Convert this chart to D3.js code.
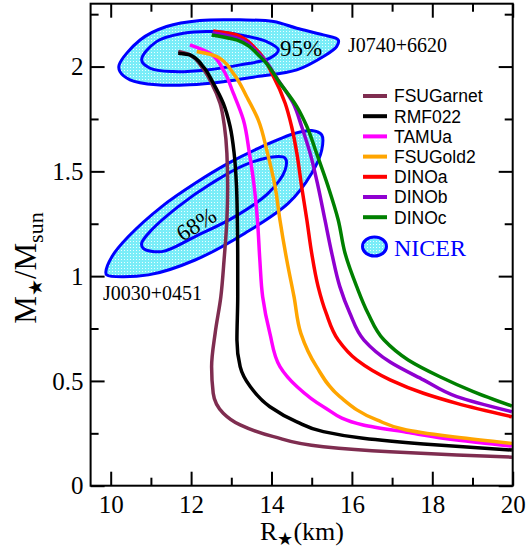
<!DOCTYPE html>
<html><head><meta charset="utf-8">
<script src="https://cdn.jsdelivr.net/npm/d3@7"></script>
<style>body{margin:0;background:#fff}svg{display:block}</style>
</head><body>
<svg id="c" width="528" height="550"></svg>
<script>
// ---------- data (R in km, M in solar masses) ----------
const seriesNames = ["FSUGarnet","RMF022","TAMUa","FSUGold2","DINOa","DINOb","DINOc"];
const seriesColors = ["#7f2d50","#000000","#ff00ff","#ffa500","#ff0000","#8f00d0","#008000"];

const FSUGarnet = [[11.68,2.072],[11.97,2.056],[12.26,2.000],[12.51,1.921],[12.72,1.825],[12.83,1.714],[12.89,1.587],[12.91,1.427],[12.89,1.268],[12.82,1.077],[12.74,0.902],[12.60,0.730],[12.51,0.568],[12.55,0.441],[12.80,0.346],[13.22,0.290],[14.05,0.234],[15.29,0.186],[16.95,0.162],[18.61,0.147],[19.98,0.136]];
const RMF022 = [[11.68,2.064],[11.97,2.056],[12.30,2.000],[12.55,1.921],[12.80,1.825],[12.97,1.714],[13.07,1.587],[13.13,1.427],[13.15,1.268],[13.16,1.077],[13.16,0.902],[13.14,0.695],[13.22,0.568],[13.47,0.473],[13.96,0.377],[14.63,0.305],[15.29,0.258],[16.28,0.226],[17.78,0.199],[19.98,0.170]];
const TAMUa = [[11.97,2.104],[12.47,2.064],[12.80,1.984],[13.05,1.873],[13.30,1.746],[13.45,1.587],[13.57,1.427],[13.65,1.268],[13.71,1.077],[13.78,0.902],[13.96,0.727],[14.21,0.568],[14.63,0.473],[15.29,0.377],[16.28,0.290],[17.36,0.255],[18.61,0.218],[19.98,0.189]];
const FSUGold2 = [[12.14,2.072],[12.64,2.048],[13.05,1.968],[13.38,1.857],[13.67,1.746],[13.90,1.587],[14.09,1.427],[14.21,1.268],[14.38,1.077],[14.56,0.902],[14.73,0.727],[15.12,0.568],[15.70,0.425],[16.62,0.314],[17.36,0.266],[18.61,0.231],[19.98,0.202]];
const DINOa = [[12.55,2.170],[13.13,2.151],[13.63,2.080],[14.05,1.952],[14.34,1.825],[14.50,1.714],[14.63,1.587],[14.75,1.427],[14.88,1.268],[15.00,1.109],[15.16,0.950],[15.36,0.823],[15.66,0.695],[16.12,0.600],[16.95,0.505],[17.78,0.441],[18.61,0.393],[19.98,0.329]];
const DINOb = [[12.53,2.161],[13.13,2.137],[13.67,2.064],[14.16,1.937],[14.54,1.825],[14.75,1.714],[14.96,1.587],[15.16,1.427],[15.33,1.268],[15.50,1.109],[15.70,0.950],[15.95,0.823],[16.30,0.695],[16.95,0.590],[17.78,0.505],[18.61,0.425],[19.98,0.353]];
const DINOc = [[12.51,2.151],[13.13,2.127],[13.71,2.048],[14.21,1.921],[14.63,1.809],[14.88,1.714],[15.12,1.587],[15.41,1.427],[15.66,1.268],[15.83,1.109],[16.12,0.950],[16.40,0.823],[16.80,0.695],[17.40,0.600],[18.19,0.520],[19.02,0.449],[19.98,0.380]];
const seriesData = [FSUGarnet,RMF022,TAMUa,FSUGold2,DINOa,DINOb,DINOc];

// NICER credible contours
const J0740outer = [[10.21,2.008],[10.73,2.127],[11.39,2.191],[12.22,2.220],[13.22,2.223],[14.05,2.215],[14.63,2.183],[15.29,2.151],[15.66,2.127],[15.62,2.095],[15.29,2.048],[14.63,1.984],[13.63,1.952],[12.80,1.928],[11.97,1.913],[11.14,1.913],[10.48,1.937],[10.23,1.976]];
const J0740inner = [[10.77,2.032],[11.14,2.119],[11.81,2.159],[12.55,2.167],[13.22,2.151],[13.88,2.119],[14.17,2.080],[13.96,2.040],[13.22,2.008],[12.39,1.984],[11.56,1.976],[10.98,1.992]];
const J0030outer = [[9.90,1.006],[10.94,1.006],[12.10,1.077],[13.34,1.205],[14.42,1.348],[15.00,1.491],[15.25,1.602],[15.25,1.674],[15.00,1.695],[14.59,1.682],[13.76,1.618],[12.93,1.539],[12.10,1.443],[11.27,1.332],[10.44,1.189],[10.03,1.093],[9.88,1.021]];
const J0030inner = [[10.81,1.133],[11.27,1.117],[12.10,1.189],[13.09,1.284],[13.92,1.396],[14.34,1.507],[14.34,1.563],[14.09,1.570],[13.34,1.531],[12.51,1.443],[11.68,1.332],[11.02,1.221],[10.77,1.157]];

const xMajor = [10,12,14,16,18,20];
const xMinor = [11,13,15,17,19];
const yMajor = [0,0.5,1,1.5,2];
const yMinor = [0.25,0.75,1.25,1.75,2.25];
const yTickLabels = ["0","0.5","1","1.5","2"];

// ---------- drawing ----------
const svg = d3.select("#c");
const x = d3.scaleLinear().domain([9.5,20]).range([90.6,512.7]);
const y = d3.scaleLinear().domain([0,2.3]).range([485.7,3.7]);
const serif = "'Liberation Serif','Times New Roman',serif";
const sans = "'Liberation Sans',Arial,sans-serif";

const closed = d3.line().x(d=>x(d[0])).y(d=>y(d[1])).curve(d3.curveCatmullRomClosed.alpha(0.5));
const open = d3.line().x(d=>x(d[0])).y(d=>y(d[1])).curve(d3.curveMonotoneY);

const blue = "#0000ff";
const defs = svg.append("defs");
const pat = defs.append("pattern").attr("id","dots").attr("width",3).attr("height",3).attr("patternUnits","userSpaceOnUse");
pat.append("rect").attr("width",3).attr("height",3).attr("fill","#7aedf8");
pat.append("rect").attr("x",1).attr("y",1).attr("width",1).attr("height",1).attr("fill","#eafeff");

const contours = svg.append("g");
[J0740outer,J0030outer].forEach(c=>contours.append("path").attr("d",closed(c)).attr("fill","url(#dots)").attr("stroke",blue).attr("stroke-width",3));
[J0740inner,J0030inner].forEach(c=>contours.append("path").attr("d",closed(c)).attr("fill","none").attr("stroke",blue).attr("stroke-width",3));

svg.append("text").attr("x",280).attr("y",56).attr("font-family",serif).attr("font-size",23).text("95%");
svg.append("text").attr("x",348).attr("y",52).attr("font-family",serif).attr("font-size",20).text("J0740+6620");
svg.append("text").attr("x",103).attr("y",300).attr("font-family",serif).attr("font-size",20).text("J0030+0451");
svg.append("text").attr("transform","translate(196,224) rotate(-32)").attr("text-anchor","middle").attr("dy","0.35em")
  .attr("font-family",serif).attr("font-size",23).text("68%");

// EOS curves
const curves = svg.append("g");
seriesData.forEach((d,i)=>curves.append("path").attr("d",open(d)).attr("fill","none")
  .attr("stroke",seriesColors[i]).attr("stroke-width",3.5));

// axes / frame
function axis(gen, tr, vals, size){
  const g = svg.append("g").attr("transform",tr).call(gen.tickValues(vals).tickSize(size).tickSizeOuter(0));
  g.select(".domain").remove();
  g.selectAll("line").attr("stroke","#000").attr("stroke-width",2);
  return g;
}
const bx = axis(d3.axisBottom(x).tickFormat(d3.format("d")), `translate(0,${y(0)})`, xMajor, -14);
bx.selectAll("text").attr("y",27).attr("dy",0).attr("font-family",serif).attr("font-size",25).attr("fill","#000");
axis(d3.axisBottom(x).tickFormat(""), `translate(0,${y(0)})`, xMinor, -8);
axis(d3.axisTop(x).tickFormat(""), `translate(0,${y(2.3)})`, xMajor, -14);
axis(d3.axisTop(x).tickFormat(""), `translate(0,${y(2.3)})`, xMinor, -8);
const ly = axis(d3.axisLeft(y).tickFormat((d,i)=>yTickLabels[i]), `translate(${x(9.5)},0)`, yMajor, -14);
ly.selectAll("text").attr("x",-7).attr("dy","0.33em").attr("font-family",serif).attr("font-size",25).attr("fill","#000");
axis(d3.axisLeft(y).tickFormat(""), `translate(${x(9.5)},0)`, yMinor, -8);
axis(d3.axisRight(y).tickFormat(""), `translate(${x(20)},0)`, yMajor, -14);
axis(d3.axisRight(y).tickFormat(""), `translate(${x(20)},0)`, yMinor, -8);
svg.append("rect").attr("x",x(9.5)).attr("y",y(2.3)).attr("width",x(20)-x(9.5)).attr("height",y(0)-y(2.3))
  .attr("fill","none").attr("stroke","#000").attr("stroke-width",2);

// legend
const lg = svg.append("g");
seriesNames.forEach((n,i)=>{
  const yy = 96 + i*20.2;
  lg.append("line").attr("x1",363).attr("x2",387).attr("y1",yy).attr("y2",yy).attr("stroke",seriesColors[i]).attr("stroke-width",4);
  lg.append("text").attr("x",394).attr("y",yy).attr("dy","0.36em").attr("font-family",sans).attr("font-size",17.5).text(n);
});
lg.append("ellipse").attr("cx",374.5).attr("cy",246.5).attr("rx",12).attr("ry",9.5).attr("fill","url(#dots)").attr("stroke",blue).attr("stroke-width",3);
lg.append("text").attr("x",394).attr("y",256).attr("font-family",serif).attr("font-size",24).attr("fill",blue).text("NICER");

// axis titles
const xt = svg.append("text").attr("x",302).attr("y",540).attr("text-anchor","middle").attr("font-family",serif).attr("font-size",26);
xt.append("tspan").text("R");
xt.append("tspan").attr("font-size",18).attr("dy",5).text("★");
xt.append("tspan").attr("dy",-5).text("(km)");
const yt = svg.append("text").attr("transform","translate(36,268) rotate(-90)").attr("text-anchor","middle").attr("font-family",serif).attr("font-size",31);
yt.append("tspan").text("M");
yt.append("tspan").attr("font-size",19).attr("dy",6).text("★");
yt.append("tspan").attr("dy",-6).text("/M");
yt.append("tspan").attr("font-size",22).attr("dy",7).text("sun");
</script>
</body></html>
